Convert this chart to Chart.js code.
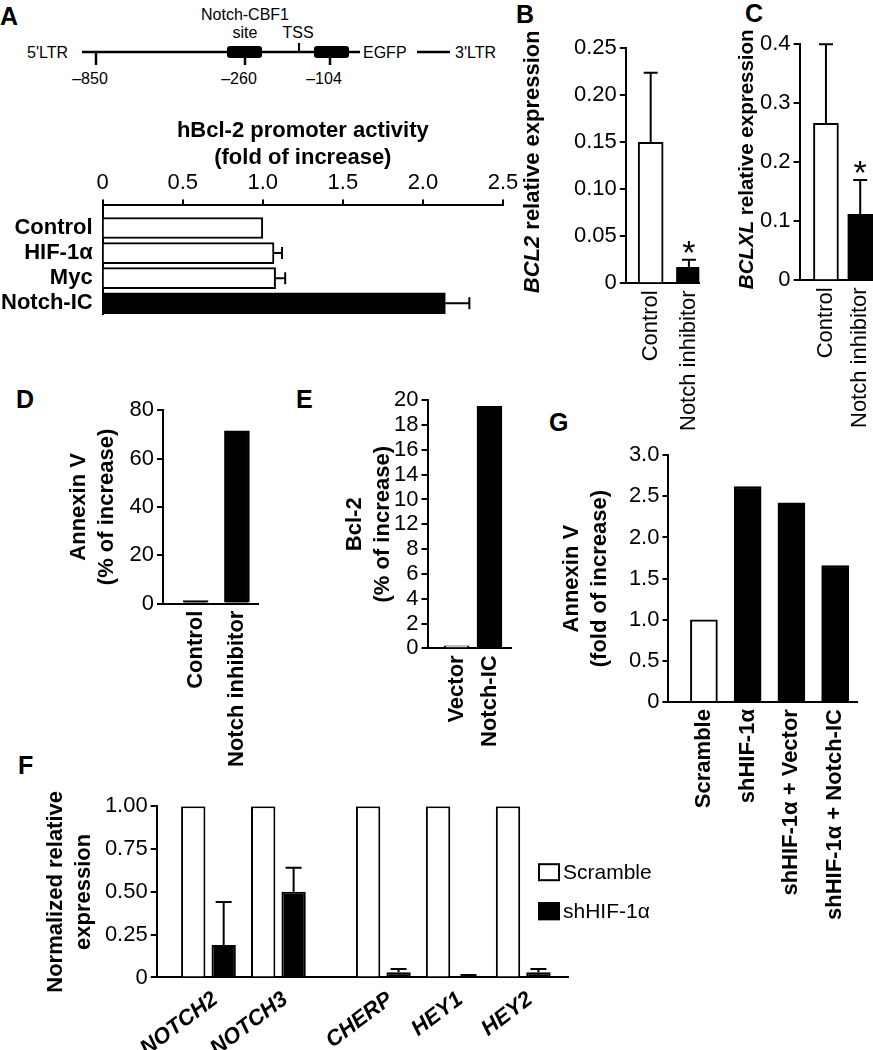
<!DOCTYPE html>
<html>
<head>
<meta charset="utf-8">
<script src="https://cdn.jsdelivr.net/npm/chart.js@4.4.1/dist/chart.umd.min.js"></script>
<style>
  html, body { margin: 0; padding: 0; background: #fff; overflow: hidden; }
  #page { position: relative; width: 873px; height: 1050px; overflow: hidden;
          font-family: 'Liberation Sans', Arial, Helvetica, sans-serif; }
  canvas { position: absolute; }
  .panel { position: absolute; font-weight: bold; font-size: 25px; line-height: 1; }
</style>
</head>
<body>
<div id="page">
  <!-- construct schematic for panel A -->
  <svg width="520" height="100" style="position:absolute;left:0;top:0"
       font-family="Liberation Sans, Arial, sans-serif" font-size="16" stroke-linecap="butt">
    <text x="27" y="58">5'LTR</text>
    <line x1="82" y1="52" x2="360" y2="52" stroke="#000" stroke-width="2.5"/>
    <rect x="227" y="46" width="35" height="12" rx="3" fill="#000"/>
    <rect x="314" y="46" width="35" height="12" rx="3" fill="#000"/>
    <line x1="96" y1="52" x2="96" y2="65" stroke="#000" stroke-width="2.5"/>
    <line x1="245" y1="57" x2="245" y2="65" stroke="#000" stroke-width="2.5"/>
    <line x1="330" y1="57" x2="330" y2="65" stroke="#000" stroke-width="2.5"/>
    <line x1="299" y1="43" x2="299" y2="52" stroke="#000" stroke-width="2"/>
    <text x="90" y="84" text-anchor="middle">–850</text>
    <text x="239" y="84" text-anchor="middle">–260</text>
    <text x="324" y="84" text-anchor="middle">–104</text>
    <text x="245" y="20" text-anchor="middle">Notch-CBF1</text>
    <text x="245" y="38" text-anchor="middle">site</text>
    <text x="298" y="38" text-anchor="middle">TSS</text>
    <text x="363" y="58">EGFP</text>
    <line x1="417" y1="52" x2="450" y2="52" stroke="#000" stroke-width="2.5"/>
    <text x="455" y="58">3'LTR</text>
  </svg>

  <div class="panel" style="left:0px;top:4px">A</div>
  <div class="panel" style="left:516px;top:2px">B</div>
  <div class="panel" style="left:745px;top:1px">C</div>
  <div class="panel" style="left:16px;top:387px">D</div>
  <div class="panel" style="left:296px;top:387px">E</div>
  <div class="panel" style="left:18px;top:753px">F</div>
  <div class="panel" style="left:549px;top:410px">G</div>

  <canvas id="chartA"></canvas>
  <canvas id="chartB"></canvas>
  <canvas id="chartC"></canvas>
  <canvas id="chartD"></canvas>
  <canvas id="chartE"></canvas>
  <canvas id="chartF"></canvas>
  <canvas id="chartG"></canvas>
</div>

<script>
// A: promoter activity
const aCategories = ['Control', 'HIF-1α', 'Myc', 'Notch-IC'];
const aValues = [1.0, 1.07, 1.08, 2.14];
const aErrors = [0, 0.05, 0.06, 0.15];
const aTickValues = [0, 0.5, 1, 1.5, 2, 2.5];
const aTickLabels = ['0', '0.5', '1.0', '1.5', '2.0', '2.5'];

// B: BCL2
const bCategories = ['Control', 'Notch inhibitor'];
const bValues = [0.15, 0.017];
const bErrors = [0.074, 0.008];
const bMarks = ['', '*'];
const bTickValues = [0, 0.05, 0.1, 0.15, 0.2, 0.25];
const bTickLabels = ['0', '0.05', '0.10', '0.15', '0.20', '0.25'];

// C: BCLXL
const cCategories = ['Control', 'Notch inhibitor'];
const cValues = [0.266, 0.112];
const cErrors = [0.134, 0.058];
const cMarks = ['', '*'];
const cTickValues = [0, 0.1, 0.2, 0.3, 0.4];
const cTickLabels = ['0', '0.1', '0.2', '0.3', '0.4'];

// D: Annexin V
const dCategories = ['Control', 'Notch inhibitor'];
const dValues = [1.2, 71.5];
const dTickValues = [0, 20, 40, 60, 80];
const dTickLabels = ['0', '20', '40', '60', '80'];

// E: Bcl-2 (tick labels as printed, 10 and 12 swapped in the original)
const eCategories = ['Vector', 'Notch-IC'];
const eValues = [0.2, 19.5];
const eTickValues = [0, 2, 4, 6, 8, 10, 12, 14, 16, 18, 20];
const eTickLabels = ['0', '2', '4', '6', '8', '12', '10', '14', '16', '18', '20'];

// F: normalized expression
const fGenes = ['NOTCH2', 'NOTCH3', 'CHERP', 'HEY1', 'HEY2'];
const fScramble = [1, 1, 1, 1, 1];
const fShHIF = [0.19, 0.50, 0.03, 0.01, 0.03];
const fShHIFErrors = [0.25, 0.14, 0.02, 0.005, 0.02];
const fTickValues = [0, 0.25, 0.5, 0.75, 1];
const fTickLabels = ['0', '0.25', '0.50', '0.75', '1.00'];

// G: Annexin V fold
const gCategories = ['Scramble', 'shHIF-1α', 'shHIF-1α + Vector', 'shHIF-1α + Notch-IC'];
const gValues = [1.0, 2.62, 2.42, 1.66];
const gTickValues = [0, 0.5, 1, 1.5, 2, 2.5, 3];
const gTickLabels = ['0', '0.5', '1.0', '1.5', '2.0', '2.5', '3.0'];

const FONT = "'Liberation Sans', Arial, Helvetica, sans-serif";
const WHITE = '#ffffff';
const BLACK = '#000000';

Chart.defaults.font.family = FONT;
Chart.defaults.color = BLACK;
Chart.defaults.animation = false;
Chart.defaults.responsive = false;
Chart.defaults.plugins.legend.display = false;
Chart.defaults.plugins.tooltip.enabled = false;

const idx = arr => arr.map((_, i) => i);
const points = (vals, pos) => vals.map((v, i) => ({ x: pos[i], y: v }));

// error bars + significance stars
const errorBars = {
  id: 'errorBars',
  afterDatasetsDraw(chart, args, opts) {
    const { ctx } = chart;
    const horizontal = chart.options.indexAxis === 'y';
    const vScale = horizontal ? chart.scales.x : chart.scales.y;
    const cap = (opts && opts.cap) || 7;
    chart.data.datasets.forEach((ds, di) => {
      const meta = chart.getDatasetMeta(di);
      meta.data.forEach((bar, i) => {
        const v = ds.data[i][horizontal ? 'x' : 'y'];
        const err = ds.errorBars ? ds.errorBars[i] : 0;
        ctx.save();
        ctx.strokeStyle = BLACK;
        ctx.lineWidth = 2;
        if (err) {
          const p0 = vScale.getPixelForValue(v);
          const p1 = vScale.getPixelForValue(v + err);
          ctx.beginPath();
          if (horizontal) {
            ctx.moveTo(p0, bar.y); ctx.lineTo(p1, bar.y);
            ctx.moveTo(p1, bar.y - cap); ctx.lineTo(p1, bar.y + cap);
          } else {
            ctx.moveTo(bar.x, p0); ctx.lineTo(bar.x, p1);
            ctx.moveTo(bar.x - cap, p1); ctx.lineTo(bar.x + cap, p1);
          }
          ctx.stroke();
        }
        if (ds.marks && ds.marks[i]) {
          ctx.fillStyle = BLACK;
          ctx.font = '34px ' + FONT;
          ctx.textAlign = 'center';
          ctx.textBaseline = 'alphabetic';
          ctx.fillText(ds.marks[i], bar.x, vScale.getPixelForValue(v + err) + 4);
        }
        ctx.restore();
      });
    });
  }
};

// axis title with mixed italic parts
const richTitle = {
  id: 'richTitle',
  afterDraw(chart, args, o) {
    if (!o || !o.parts) return;
    const { ctx, chartArea } = chart;
    const cx = chartArea.left + o.dx;
    const cy = (chartArea.top + chartArea.bottom) / 2 + (o.dy || 0);
    const fontFor = p => (p.italic ? 'italic ' : '') + 'bold ' + o.size + 'px ' + FONT;
    ctx.save();
    ctx.translate(cx, cy);
    ctx.rotate(-Math.PI / 2);
    ctx.fillStyle = BLACK;
    ctx.textBaseline = 'middle';
    let total = 0;
    o.parts.forEach(p => { ctx.font = fontFor(p); total += ctx.measureText(p.text).width; });
    let x = -total / 2;
    o.parts.forEach(p => {
      ctx.font = fontFor(p);
      ctx.fillText(p.text, x, 0);
      x += ctx.measureText(p.text).width;
    });
    ctx.restore();
  }
};

// boxed legend inside the plot
const boxLegend = {
  id: 'boxLegend',
  afterDraw(chart, args, o) {
    if (!o || !o.display) return;
    const { ctx, chartArea } = chart;
    chart.data.datasets.forEach((ds, i) => {
      const x = chartArea.right + o.dx;
      const y = chartArea.top + o.dy + i * o.gap;
      ctx.save();
      ctx.fillStyle = ds.backgroundColor;
      ctx.fillRect(x, y, o.w, o.h);
      ctx.strokeStyle = BLACK;
      ctx.lineWidth = 2;
      ctx.strokeRect(x + 1, y + 1, o.w - 2, o.h - 2);
      ctx.fillStyle = BLACK;
      ctx.font = o.size + 'px ' + FONT;
      ctx.textBaseline = 'middle';
      ctx.fillText(ds.label, x + o.w + 3, y + o.h / 2 + 1);
      ctx.restore();
    });
  }
};

function valueAxis(min, max, values, labels, title, titlePad) {
  return {
    type: 'linear', min, max,
    afterBuildTicks: s => { s.ticks = values.map(v => ({ value: v })); },
    ticks: { autoSkip: false, callback: (v, i) => labels[i], font: { size: 22 }, padding: 3 },
    grid: { drawOnChartArea: false, drawTicks: true, tickLength: 6, color: BLACK, lineWidth: 2 },
    border: { color: BLACK, width: 2 },
    title: title
      ? { display: true, text: title, font: { size: 22, weight: 'bold', lineHeight: 1.27 },
          padding: { top: 0, bottom: titlePad } }
      : { display: false }
  };
}

// linear axis used as a category axis, so the ends can be placed freely
function indexAxis(labels, positions, min, max, font, rotation, pad, shift) {
  return {
    type: 'linear', min, max, offset: false,
    afterBuildTicks: s => { s.ticks = positions.map(v => ({ value: v })); },
    ticks: { autoSkip: false, callback: (v, i) => labels[i], font,
             minRotation: rotation, maxRotation: rotation, padding: pad, labelOffset: shift || 0 },
    grid: { display: false, drawTicks: false, offset: false },
    border: { color: BLACK, width: 2 }
  };
}

// build chart, then resize and move the canvas so the plot area sits on the reference box
function build(id, area, makeConfig) {
  const canvas = document.getElementById(id);
  let w = 700, h = 700, chart = null;
  for (let pass = 0; pass < 3; pass++) {
    if (chart) chart.destroy();
    canvas.width = w; canvas.height = h;
    canvas.style.width = w + 'px'; canvas.style.height = h + 'px';
    chart = new Chart(canvas, makeConfig());
    const ca = chart.chartArea;
    w = Math.round(w + (area.r - area.l) - (ca.right - ca.left));
    h = Math.round(h + (area.b - area.t) - (ca.bottom - ca.top));
  }
  const ca = chart.chartArea;
  canvas.style.left = (area.l - ca.left) + 'px';
  canvas.style.top = (area.t - ca.top) + 'px';
  return chart;
}

const catFontNormal = { size: 22 };
const catFontBold = { size: 22, weight: 'bold' };

// Panel A
build('chartA', { l: 103, t: 205, r: 503, b: 314 }, () => ({
  type: 'bar',
  data: {
    datasets: [{
      data: aValues.map((v, i) => ({ x: v, y: i })),
      backgroundColor: [WHITE, WHITE, WHITE, BLACK],
      borderColor: BLACK, borderWidth: 2, barThickness: 21,
      errorBars: aErrors
    }]
  },
  options: {
    indexAxis: 'y',
    layout: { padding: { left: 4, right: 20, top: 4, bottom: 4 } },
    plugins: { errorBars: { cap: 6 } },
    scales: {
      x: Object.assign(valueAxis(0, 2.5, aTickValues, aTickLabels, null, 0), {
        position: 'top',
        title: { display: true, text: ['hBcl-2 promoter activity', '(fold of increase)'],
                 font: { size: 22, weight: 'bold', lineHeight: 1.25 }, padding: { top: 0, bottom: -5 } }
      }),
      y: Object.assign(indexAxis(aCategories, idx(aCategories), -0.9, 3.46, catFontBold, 0, 10), { reverse: true })
    }
  },
  plugins: [errorBars]
}));

// Panels B and C
function expressionConfig(cats, vals, errs, marks, yMax, tv, tl, xMin, xMax, gene, title) {
  return () => ({
    type: 'bar',
    data: {
      datasets: [{
        data: points(vals, idx(cats)),
        backgroundColor: [WHITE, BLACK],
        borderColor: BLACK, borderWidth: 2, barThickness: 25,
        errorBars: errs, marks
      }]
    },
    options: {
      layout: { padding: { left: 110, right: 12, top: 14, bottom: 4 } },
      plugins: {
        errorBars: { cap: 7 },
        richTitle: Object.assign({ parts: [{ text: gene, italic: true }, { text: ' relative expression' }] }, title)
      },
      scales: {
        x: indexAxis(cats, idx(cats), xMin, xMax, catFontNormal, 90, 7),
        y: valueAxis(0, yMax, tv, tl, null, 0)
      }
    },
    plugins: [errorBars, richTitle]
  });
}
build('chartB', { l: 626, t: 48, r: 697, b: 283 },
  expressionConfig(bCategories, bValues, bErrors, bMarks, 0.25, bTickValues, bTickLabels, -0.65, 1.27, 'BCL2',
    { size: 22, dx: -93, dy: -4 }));
build('chartC', { l: 800, t: 44, r: 873, b: 280 },
  expressionConfig(cCategories, cValues, cErrors, cMarks, 0.4, cTickValues, cTickLabels, -0.77, 1.44, 'BCLXL',
    { size: 20.5, dx: -52, dy: -3 }));

// Panels D, E, G
function simpleConfig(cats, vals, fills, yMax, tv, tl, xMin, xMax, title, titlePad, thickness) {
  return () => ({
    type: 'bar',
    data: {
      datasets: [{
        data: points(vals, idx(cats)),
        backgroundColor: fills,
        borderColor: BLACK, borderWidth: 2, barThickness: thickness
      }]
    },
    options: {
      layout: { padding: { left: 8, right: 12, top: 14, bottom: 4 } },
      scales: {
        x: indexAxis(cats, idx(cats), xMin, xMax, catFontBold, 90, 7),
        y: valueAxis(0, yMax, tv, tl, title, titlePad)
      }
    }
  });
}
build('chartD', { l: 163, t: 410, r: 255, b: 603 },
  simpleConfig(dCategories, dValues, [BLACK, BLACK], 80, dTickValues, dTickLabels, -0.79, 1.51,
    ['Annexin V', '(% of increase)'], 21, 25));
build('chartE', { l: 427, t: 400, r: 505, b: 648 },
  simpleConfig(eCategories, eValues, [WHITE, BLACK], 20, eTickValues, eTickLabels, -0.885, 1.67,
    ['Bcl-2', '(% of increase)'], 19, 25));
build('chartG', { l: 668, t: 455, r: 857, b: 702 },
  simpleConfig(gCategories, gValues, [WHITE, BLACK, BLACK, BLACK], 3, gTickValues, gTickLabels, -0.81, 3.52,
    ['Annexin V', '(fold of increase)'], 12, 27));

// Panel F: gap between the NOTCH genes and the target genes
const fGapAt = 2;
const fPositions = fGenes.map((_, i) => (i < fGapAt ? i : i + 0.5));
build('chartF', { l: 157, t: 806, r: 568, b: 977 }, () => ({
  type: 'bar',
  data: {
    datasets: [
      { label: 'Scramble', data: points(fScramble, fPositions), backgroundColor: WHITE,
        borderColor: BLACK, borderWidth: 2, categoryPercentage: 0.87, barPercentage: 0.8 },
      { label: 'shHIF-1α', data: points(fShHIF, fPositions), backgroundColor: BLACK,
        borderColor: BLACK, borderWidth: 2, categoryPercentage: 0.87, barPercentage: 0.8,
        errorBars: fShHIFErrors }
    ]
  },
  options: {
    layout: { padding: { left: 8, right: 100, top: 14, bottom: 4 } },
    plugins: {
      errorBars: { cap: 8 },
      boxLegend: { display: true, dx: -30, dy: 57, gap: 39, w: 22, h: 18, size: 21 }
    },
    scales: {
      x: indexAxis(fGenes, fPositions, -0.74, 5.14, { size: 22, weight: 'bold', style: 'italic' }, 37, 9, 7),
      y: valueAxis(0, 1, fTickValues, fTickLabels, ['Normalized relative', 'expression'], 4)
    }
  },
  plugins: [errorBars, boxLegend]
}));
</script>
</body>
</html>
